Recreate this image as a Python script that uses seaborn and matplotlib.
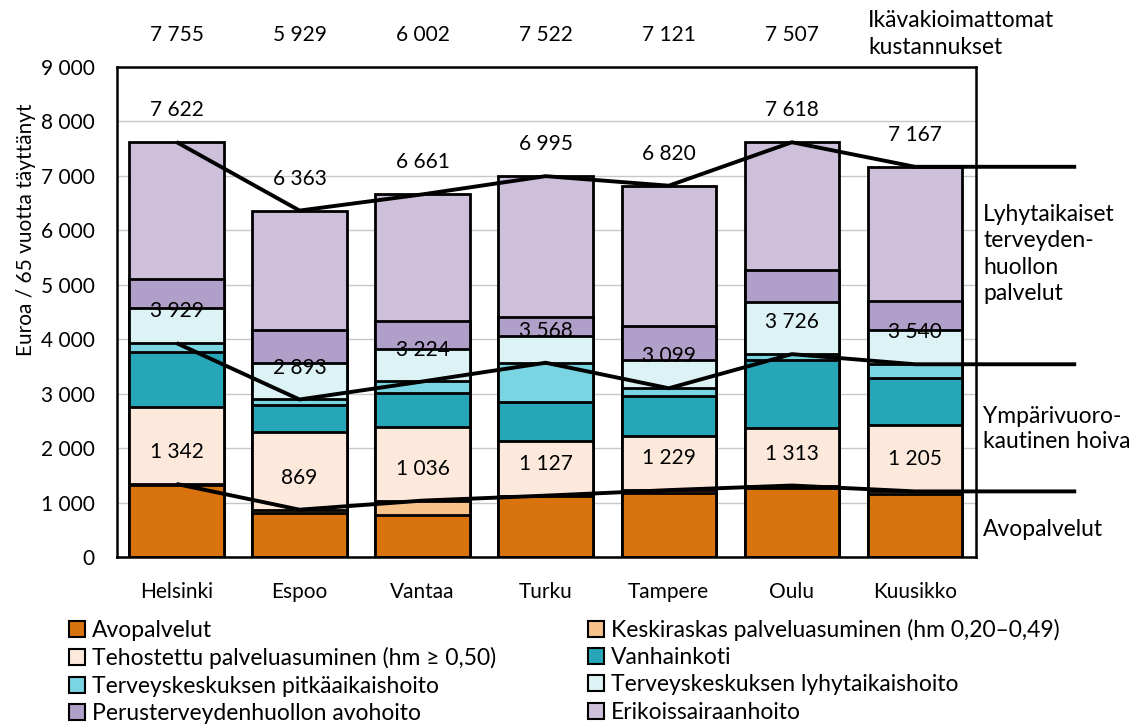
import numpy as np
import pandas as pd
import matplotlib
matplotlib.use("Agg")
import matplotlib.pyplot as plt
from matplotlib.patches import Patch
import seaborn as sns

# values (euros per 65+ resident)
cities = ['Helsinki', 'Espoo', 'Vantaa', 'Turku', 'Tampere', 'Oulu', 'Kuusikko']
avopalvelut = [1320, 800, 771, 1120, 1180, 1265, 1150]
keskiraskas = [22, 69, 265, 7, 49, 48, 55]
tehostettu = [1408, 1433, 1358, 1004, 1000, 1050, 1226]
vanhainkoti = [1021, 490, 613, 710, 728, 1256, 864]
tk_pitka = [158, 101, 217, 727, 142, 107, 245]
tk_lyhyt = [639, 664, 597, 485, 526, 963, 626]
pth_avohoito = [532, 613, 520, 349, 624, 583, 541]
erikoissairaanhoito = [2522, 2193, 2320, 2593, 2571, 2346, 2460]
vakioimattomat = [7755, 5929, 6002, 7522, 7121, 7507]

series_names = ['Avopalvelut', 'Keskiraskas palveluasuminen (hm 0,20–0,49)',
                'Tehostettu palveluasuminen (hm ≥ 0,50)', 'Vanhainkoti',
                'Terveyskeskuksen pitkäaikaishoito', 'Terveyskeskuksen lyhytaikaishoito',
                'Perusterveydenhuollon avohoito', 'Erikoissairaanhoito']
colors = ['#D9730D', '#F8C38A', '#FCE9DC', '#27A6B7',
          '#79D5E2', '#DCF2F5', '#B09FC8', '#CEC0DB']

df = pd.DataFrame(dict(zip(series_names,
                           [avopalvelut, keskiraskas, tehostettu, vanhainkoti,
                            tk_pitka, tk_lyhyt, pth_avohoito, erikoissairaanhoito])),
                  index=cities)
cum = df.cumsum(axis=1)

sns.set_theme(style="whitegrid", rc={'text.color': 'black', 'axes.labelcolor': 'black',
                                     'xtick.color': 'black', 'ytick.color': 'black'})
plt.rcParams['font.family'] = ['Lato', 'DejaVu Sans']

fig = plt.figure(figsize=(11.37, 7.24), dpi=100)
ax = fig.add_axes([117/1137, 1-557/724, 859/1137, 490/724])

# stacked bars: draw cumulative totals from the top down
for name, col in reversed(list(zip(series_names, colors))):
    sns.barplot(x=cities, y=cum[name].values, color=col, saturation=1,
                width=0.768, edgecolor='black', linewidth=2, ax=ax, zorder=2)

# group lines: avopalvelut, ympärivuorokautinen hoiva, total
line_x = list(range(len(cities))) + [7.31]
groups = [cum['Keskiraskas palveluasuminen (hm 0,20–0,49)'],
          cum['Terveyskeskuksen pitkäaikaishoito'],
          cum['Erikoissairaanhoito']]
for g in groups:
    vals = list(g.values)
    ax.plot(line_x, vals + [vals[-1]], color='black', lw=2.8, zorder=5,
            clip_on=False, solid_capstyle='butt')
    for i, v in enumerate(vals):
        ax.annotate(f"{int(round(v)):,}".replace(",", " "), (i, v),
                    xytext=(0, 23), textcoords='offset points',
                    ha='center', va='center', fontsize=15, zorder=6)

for i, v in enumerate(vakioimattomat):
    ax.text(i, 1.065, f"{v:,}".replace(",", " "), transform=ax.get_xaxis_transform(),
            ha='center', va='center', fontsize=15)

fig.text(868/1137, 1-34/724, 'Ikävakioimattomat\nkustannukset', ha='left', va='center',
         fontsize=16.5, linespacing=1.35)
fig.text(983/1137, 1-254/724, 'Lyhytaikaiset\nterveyden-\nhuollon\npalvelut', ha='left',
         va='center', fontsize=16.5, linespacing=1.3)
fig.text(983/1137, 1-429/724, 'Ympärivuoro-\nkautinen hoiva', ha='left', va='center',
         fontsize=16.5, linespacing=1.25)
fig.text(983/1137, 1-530/724, 'Avopalvelut', ha='left', va='center', fontsize=16.5)

ax.set_xlim(-0.483, 6.496)
ax.set_ylim(0, 9000)
ax.set_yticks(np.arange(0, 9001, 1000))
ax.set_yticklabels([f"{t:,}".replace(",", " ") for t in range(0, 9001, 1000)], fontsize=15)
ax.tick_params(axis='x', labelsize=15, pad=12)
ax.tick_params(axis='y', pad=10)
ax.set_ylabel('Euroa / 65 vuotta täyttänyt', fontsize=15)
ax.yaxis.set_label_coords(-0.094, 0.667)
ax.set_xlabel('')
ax.grid(axis='y', color='#C8C8C8', lw=1)
ax.grid(axis='x', visible=False)
ax.set_axisbelow(True)
for s in ax.spines.values():
    s.set_visible(True)
    s.set_color('black')
    s.set_linewidth(1.8)

handles = [Patch(facecolor=c, edgecolor='black', linewidth=1.5) for c in colors]
order = [0, 2, 4, 6, 1, 3, 5, 7]
fig.legend([handles[i] for i in order], [series_names[i] for i in order],
           loc='upper left', bbox_to_anchor=(69/1137, 1-619/724), ncol=2,
           frameon=False, fontsize=16.5, handlelength=0.7, handleheight=0.7,
           handletextpad=0.3, labelspacing=0.27, columnspacing=4.0,
           borderaxespad=0, borderpad=0)

fig.savefig('out.png', dpi=100)
